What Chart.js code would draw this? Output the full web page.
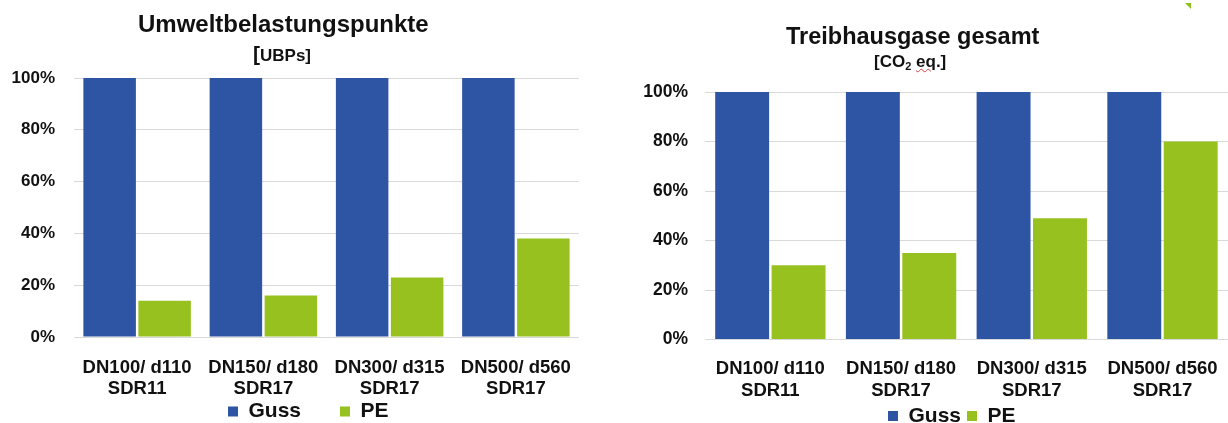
<!DOCTYPE html>
<html lang="de">
<head>
<meta charset="utf-8">
<title>Guss vs PE</title>
<script src="https://cdn.jsdelivr.net/npm/chart.js@4/dist/chart.umd.min.js"></script>
<style>
  html, body { margin: 0; padding: 0; background: #fff; }
  body { position: relative; width: 1228px; height: 423px; overflow: hidden; font-family: 'Liberation Sans', Arial, sans-serif; color: #111; }
  canvas { position: absolute; top: 0; }
  .titel { position: absolute; font-weight: 700; white-space: nowrap; line-height: 1; }
  .ecke { position: absolute; left: 1185px; top: 3px; width: 0; height: 0; border-top: 6px solid #8cc11f; border-left: 6px solid transparent; }
</style>
</head>
<body>
<canvas id="chart-ubp" width="614" height="423" style="left:0;width:614px;height:423px"></canvas>
<canvas id="chart-co2" width="614" height="423" style="left:614px;width:614px;height:423px"></canvas>

<div class="titel" style="left:138px;top:11.5px;font-size:24px">Umweltbelastungspunkte</div>
<div class="titel" style="left:253px;top:43px;font-size:17px"><span style="font-size:21px">[</span>UBPs]</div>
<div class="titel" style="left:786px;top:25px;font-size:23.5px">Treibhausgase gesamt</div>
<div class="titel" style="left:874px;top:53px;font-size:17px">[CO<sub style="font-size:11px;vertical-align:-3px">2</sub> <span style="text-decoration:underline wavy #e04040;text-decoration-thickness:1px">eq</span>.]</div>
<div class="ecke"></div>

<script>
// Kategorien und Werte (in % von Guss)
const kategorien = [
    ['DN100/ d110', 'SDR11'],
    ['DN150/ d180', 'SDR17'],
    ['DN300/ d315', 'SDR17'],
    ['DN500/ d560', 'SDR17']
];
const gussUbp = [100, 100, 100, 100];
const peUbp = [14, 16, 23, 38];
const gussCo2 = [100, 100, 100, 100];
const peCo2 = [30, 35, 49, 80];

const FARBE_GUSS = '#2e54a4';
const FARBE_PE = '#96c11f';
const SCHRIFT = "'Liberation Sans', Arial, sans-serif";

// Legende nach dem Layout an die Stelle im Original schieben
// (Box so groß setzen, dass der Clip der Legende nichts abschneidet)
const legendePosition = {
    id: 'legendePosition',
    afterLayout(chart, args, opts) {
        const lg = chart.legend;
        if (!lg) return;
        const pad = lg.options.labels.padding;
        const size = lg.options.labels.font.size;
        lg.top = opts.mitteY - pad - size / 2;
        lg.bottom = lg.top + pad + size + 10;
        lg.height = lg.bottom - lg.top;
        lg.left = opts.startX - pad;
        lg.right = lg.left + 400;
        lg.width = 400;
    }
};

/**
 * Baut ein gruppiertes Balkendiagramm (Guss / PE)
 */
function balkenChart(id, guss, pe, m) {
    const ctx = document.getElementById(id);
    return new Chart(ctx, {
        type: 'bar',
        data: {
            labels: kategorien,
            datasets: [
                { label: 'Guss', data: guss, backgroundColor: FARBE_GUSS,
                  categoryPercentage: m.catPct, barPercentage: m.barPct },
                { label: 'PE', data: pe, backgroundColor: FARBE_PE,
                  categoryPercentage: m.catPct, barPercentage: m.barPct }
            ]
        },
        plugins: [legendePosition],
        options: {
            responsive: false,
            animation: false,
            layout: { padding: { top: m.top, left: 0, right: m.right, bottom: 0 } },
            plugins: {
                tooltip: { enabled: false },
                legendePosition: { mitteY: m.legendY, startX: m.legendX },
                legend: {
                    position: 'bottom',
                    align: 'start',
                    maxHeight: 20,
                    labels: {
                        boxWidth: 10,
                        boxHeight: 10,
                        padding: m.legendPad,
                        color: '#111',
                        font: { family: SCHRIFT, size: 21, weight: 'bold' }
                    }
                }
            },
            scales: {
                x: {
                    grid: { display: false },
                    border: { display: false },
                    ticks: {
                        color: '#111',
                        padding: m.xPad,
                        maxRotation: 0,
                        autoSkip: false,
                        font: { family: SCHRIFT, size: 18.5, weight: 'bold', lineHeight: m.xLine }
                    },
                    afterFit: (scale) => { scale.height = m.xHeight; }
                },
                y: {
                    min: 0,
                    max: 100,
                    border: { display: false },
                    grid: { color: '#d9d9d9', lineWidth: 1, drawTicks: false },
                    ticks: {
                        stepSize: 20,
                        color: '#111',
                        padding: m.yPad,
                        font: { family: SCHRIFT, size: m.yFont, weight: 'bold' },
                        callback: (v) => v + '%'
                    },
                    afterFit: (scale) => { scale.width = m.yWidth; }
                }
            }
        }
    });
}

balkenChart('chart-ubp', gussUbp, peUbp, {
    top: 78, right: 35, yWidth: 74, yPad: 19, yFont: 17,
    xHeight: 66, xPad: 13, xLine: 1.1,
    legendPad: 39, legendY: 411.5, legendX: 228,
    catPct: 0.871, barPct: 0.955
});

balkenChart('chart-co2', gussCo2, peCo2, {
    top: 92, right: 0, yWidth: 91, yPad: 17, yFont: 17.5,
    xHeight: 63.5, xPad: 10.5, xLine: 1.19,
    legendPad: 6, legendY: 416, legendX: 274,
    catPct: 0.863, barPct: 0.956
});
</script>
</body>
</html>
